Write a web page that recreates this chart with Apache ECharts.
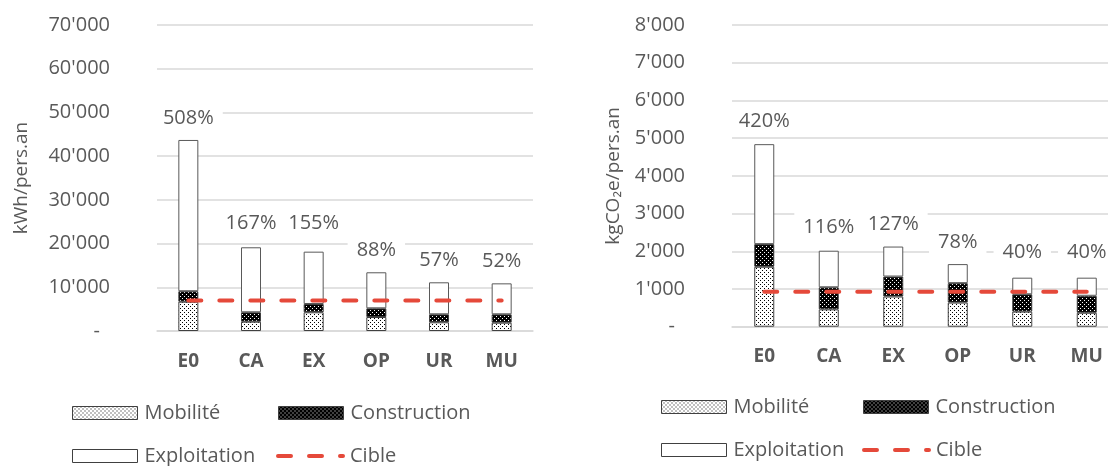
<!DOCTYPE html>
<html>
<head>
<meta charset="utf-8">
<script src="https://cdn.jsdelivr.net/npm/echarts@6/dist/echarts.min.js"></script>
<style>
  html, body { margin: 0; padding: 0; background: #fff; }
  #chart { width: 1108px; height: 466px; }
</style>
</head>
<body>
<div id="chart"></div>
<script>
// Scenario categories (shared by both panels)
const categories = ['E0', 'CA', 'EX', 'OP', 'UR', 'MU'];

// Left panel: final energy, kWh per person per year
const energyMobilite     = [6700, 2130, 4280, 3200, 1990, 1900];
const energyConstruction = [2400, 2150, 1900, 1990, 1830, 1920];
const energyExploitation = [34600, 14870, 11970, 8240, 7320, 7080];
const energyCible        = [7000, 7000, 7000, 7000, 7000, 7000];
const energyPct          = ['508%', '167%', '155%', '88%', '57%', '52%'];
const energyTicks        = ['-', "10'000", "20'000", "30'000", "40'000", "50'000", "60'000", "70'000"];

// Right panel: emissions, kgCO2e per person per year
const carbonMobilite     = [1590, 460, 800, 640, 400, 370];
const carbonConstruction = [600, 585, 530, 515, 460, 450];
const carbonExploitation = [2650, 970, 795, 505, 440, 480];
const carbonCible        = [930, 930, 930, 930, 930, 930];
const carbonPct          = ['420%', '116%', '127%', '78%', '40%', '40%'];
const carbonTicks        = ['-', "1'000", "2'000", "3'000", "4'000", "5'000", "6'000", "7'000", "8'000"];

const FONT = '"Open Sans", "Noto Sans", sans-serif';
const TEXT = '#595959';
const GRID_LINE = '#d9d9d9';

// Extra lift (px) of individual percentage labels above their bars
const energyPctLift = [0, 2, 6, 0, 0, 0];
const carbonPctLift = [1, 1, 0, 0, 3, 3];

// Small tiling canvases used as hatch fills
function makePattern(bg, fg, dots, size) {
  const c = document.createElement('canvas');
  c.width = size; c.height = size;
  const g = c.getContext('2d');
  g.fillStyle = bg; g.fillRect(0, 0, size, size);
  g.fillStyle = fg;
  dots.forEach(([x, y]) => g.fillRect(x, y, 1, 1));
  return { image: c, repeat: 'repeat' };
}
const mobFill   = makePattern('#ffffff', '#000000', [[0, 0], [2, 2]], 4);
const constFill = makePattern('#000000', '#ffffff', [[0, 0], [2, 2]], 4);

function valueAxis(gridIndex, max, interval, ticks, name, nameGap) {
  return {
    type: 'value', gridIndex, min: 0, max, interval,
    name, nameLocation: 'middle', nameGap, nameRotate: 90,
    nameTextStyle: { color: TEXT, fontSize: 19, fontFamily: FONT },
    axisLine: { show: false }, axisTick: { show: false },
    axisLabel: {
      color: TEXT, fontSize: 20, fontFamily: FONT, margin: 47,
      formatter: v => {
        const i = Math.round(v / interval);
        return i === 0 ? '{z|' + ticks[0] + '}' : ticks[i];
      },
      rich: { z: { color: TEXT, fontSize: 20, fontFamily: FONT, padding: [0, 10, 0, 0] } }
    },
    splitLine: { lineStyle: { color: GRID_LINE, width: 1.5 } }
  };
}

function categoryAxis(gridIndex, margin) {
  return {
    type: 'category', gridIndex, data: categories,
    axisLine: { lineStyle: { color: GRID_LINE, width: 1.5 } },
    axisTick: { show: false },
    axisLabel: { color: TEXT, fontSize: 19, fontWeight: 'bold', fontFamily: FONT, margin, lineHeight: 20 }
  };
}

function panelSeries(idx, stack, mob, cons, expl, cible, pct, lift) {
  const bar = (name, data, color, border) => ({
    name, type: 'bar', stack, data, xAxisIndex: idx, yAxisIndex: idx,
    barWidth: 20,
    itemStyle: { color, borderColor: border, borderWidth: 1 }
  });
  const top = bar('Exploitation', expl.map((v, i) => ({
    value: v, label: { distance: 7 + lift[i] }
  })), '#ffffff', '#595959');
  top.label = {
    show: true, position: 'top', distance: 7,
    formatter: p => pct[p.dataIndex],
    color: TEXT, fontSize: 20, fontFamily: FONT,
    backgroundColor: '#ffffff', padding: [3, 9], lineHeight: 24
  };
  return [
    bar('Mobilité', mob, mobFill, '#404040'),
    bar('Construction', cons, constFill, '#404040'),
    top,
    {
      name: 'Cible', type: 'line', data: cible, xAxisIndex: idx, yAxisIndex: idx,
      symbol: 'none', z: 5,
      lineStyle: { color: '#e5493a', width: 4, type: [13, 18], cap: 'round' }
    }
  ];
}

// One legend component per entry so the entries line up in columns
function legendItem(name, left, top, extra) {
  return Object.assign({
    data: [name], left, top, padding: 0,
    itemWidth: 65, itemHeight: 13, icon: 'rect',
    selectedMode: false,
    itemStyle: { borderWidth: 1, borderColor: '#404040' },
    textStyle: { color: TEXT, fontSize: 20, fontFamily: FONT, lineHeight: 22, padding: [0, 0, 0, 2] }
  }, extra || {});
}
const cibleLegend = {
  icon: undefined,
  itemStyle: { color: 'rgba(0,0,0,0)', borderWidth: 0 },
  lineStyle: { color: '#e5493a', width: 4, type: [13, 18], cap: 'round' }
};

const option = {
  animation: false,
  backgroundColor: '#ffffff',
  grid: [
    { left: 157, right: 575, top: 25, bottom: 135, outerBoundsMode: 'none' },
    { left: 732, right: -11, top: 25, bottom: 139.3, outerBoundsMode: 'none' }
  ],
  xAxis: [categoryAxis(0, 21), categoryAxis(1, 20)],
  yAxis: [
    valueAxis(0, 70000, 10000, energyTicks, 'kWh/pers.an', 126),
    valueAxis(1, 8000, 1000, carbonTicks, 'kgCO\u2082e/pers.an', 109)
  ],
  legend: [
    legendItem('Mobilité', 72, 402),
    legendItem('Construction', 278, 402),
    legendItem('Exploitation', 72, 445),
    legendItem('Cible', 276, 445, cibleLegend),
    legendItem('Mobilité', 661, 396),
    legendItem('Construction', 863, 396),
    legendItem('Exploitation', 661, 439),
    legendItem('Cible', 862, 439, cibleLegend)
  ],
  series: [
    ...panelSeries(0, 'energy', energyMobilite, energyConstruction, energyExploitation, energyCible, energyPct, energyPctLift),
    ...panelSeries(1, 'carbon', carbonMobilite, carbonConstruction, carbonExploitation, carbonCible, carbonPct, carbonPctLift)
  ]
};

const chart = echarts.init(document.getElementById('chart'), null, { renderer: 'canvas' });
chart.setOption(option);
</script>
</body>
</html>
